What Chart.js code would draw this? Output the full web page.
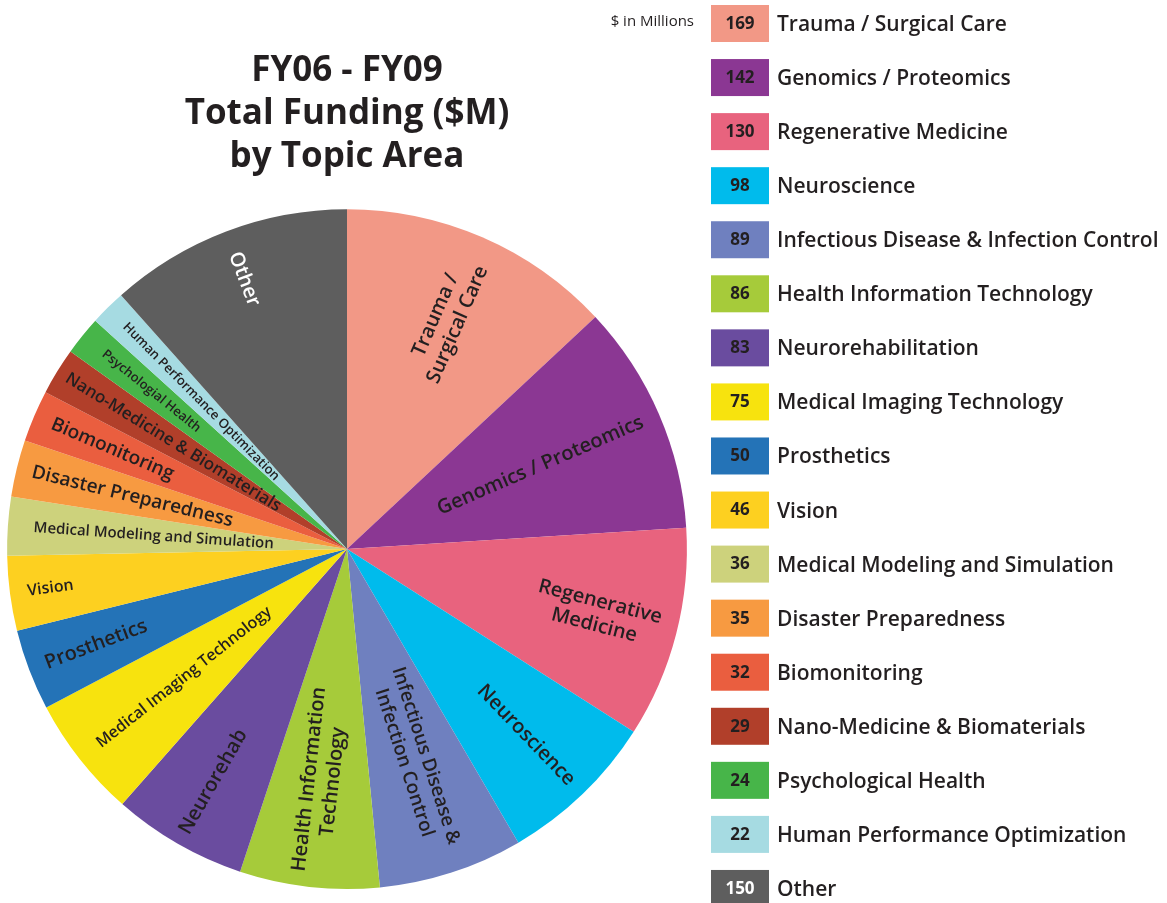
<!DOCTYPE html>
<html lang="en">
<head>
<meta charset="UTF-8">
<title>FY06 - FY09 Total Funding by Topic Area</title>
<script src="https://cdn.jsdelivr.net/npm/chart.js"></script>
<style>
    body { margin: 0; background: #fff; }
    #wrap { width: 1167px; height: 903px; position: relative; }
</style>
</head>
<body>
<div id="wrap"><canvas id="fundingChart"></canvas></div>
<script>
    // topic names as in the legend
    const topics = [
        'Trauma / Surgical Care', 'Genomics / Proteomics', 'Regenerative Medicine', 'Neuroscience',
        'Infectious Disease & Infection Control', 'Health Information Technology', 'Neurorehabilitation',
        'Medical Imaging Technology', 'Prosthetics', 'Vision', 'Medical Modeling and Simulation',
        'Disaster Preparedness', 'Biomonitoring', 'Nano-Medicine & Biomaterials', 'Psychological Health',
        'Human Performance Optimization', 'Other'
    ];
    // text written inside the slices (\n = new line)
    const sliceLabels = [
        'Trauma /\nSurgical Care', 'Genomics / Proteomics', 'Regenerative\nMedicine', 'Neuroscience',
        'Infectious Disease &\nInfection Control', 'Health Information\nTechnology', 'Neurorehab',
        'Medical Imaging Technology', 'Prosthetics', 'Vision', 'Medical Modeling and Simulation',
        'Disaster Preparedness', 'Biomonitoring', 'Nano-Medicine & Biomaterials', 'Psychologial Health',
        'Human Performance Optimization', 'Other'
    ];
    // $ in millions
    const funding = [169, 142, 130, 98, 89, 86, 83, 75, 50, 46, 36, 35, 32, 29, 24, 22, 150];
    const colors = [
        '#f29886', '#8b3793', '#e8637e', '#00bbec', '#6f80bf', '#a6cb3a', '#6a4c9f', '#f7e30e', '#2473b7',
        '#fdd020', '#cdd27c', '#f79a41', '#ea5e3f', '#b13f2a', '#47b549', '#a6dbe2', '#5e5e5e'
    ];
    const titleLines = ['FY06 - FY09', 'Total Funding ($M)', 'by Topic Area'];
    const unitNote = '$ in Millions';

    // where the slice text sits (fraction of radius) and how big it is
    const labelRadius = [0.735, 0.62, 0.76, 0.76, 0.65, 0.685, 0.79, 0.61, 0.79, 0.88, 0.57, 0.65, 0.75, 0.60, 0.74, 0.61, 0.85];
    const labelSize = [20, 20, 20, 20, 19, 20, 20, 16, 20, 16, 15, 19, 19, 17, 13, 13, 20];

    const FONT = '"Open Sans", "Noto Sans", sans-serif';
    const INK = '#231f20';

    // labels rotated along the radius of each slice
    const sliceText = {
        id: 'sliceText',
        afterDatasetsDraw(chart) {
            const ctx = chart.ctx;
            const arcs = chart.getDatasetMeta(0).data;
            arcs.forEach((arc, i) => {
                const p = arc.getProps(['x', 'y', 'startAngle', 'endAngle', 'outerRadius']);
                const mid = (p.startAngle + p.endAngle) / 2;
                const r = p.outerRadius * labelRadius[i];
                const rot = Math.cos(mid) >= 0 ? mid : mid + Math.PI;
                const size = labelSize[i];
                const lines = sliceLabels[i].split('\n');
                ctx.save();
                ctx.translate(p.x + Math.cos(mid) * r, p.y + Math.sin(mid) * r);
                ctx.rotate(rot);
                ctx.font = `600 ${size}px ${FONT}`;
                ctx.fillStyle = i === arcs.length - 1 ? '#ffffff' : INK;
                ctx.textAlign = 'center';
                ctx.textBaseline = 'middle';
                lines.forEach((t, k) => {
                    ctx.fillText(t, 0, (k - (lines.length - 1) / 2) * size * 1.2);
                });
                ctx.restore();
            });
        }
    };

    // value boxes + names on the right
    const sideLegend = {
        id: 'sideLegend',
        afterDraw(chart) {
            const ctx = chart.ctx;
            ctx.save();
            ctx.textBaseline = 'middle';
            ctx.fillStyle = INK;
            ctx.textAlign = 'right';
            ctx.font = `400 15px ${FONT}`;
            ctx.fillText(unitNote, 694, 22);
            topics.forEach((name, i) => {
                const top = 5 + i * 54.06;
                ctx.fillStyle = colors[i];
                ctx.fillRect(711, top, 58, 37);
                ctx.fillStyle = i === topics.length - 1 ? '#ffffff' : INK;
                ctx.textAlign = 'center';
                ctx.font = `700 17px ${FONT}`;
                ctx.fillText(String(funding[i]), 740, top + 19);
                ctx.fillStyle = INK;
                ctx.textAlign = 'left';
                ctx.font = `600 21px ${FONT}`;
                ctx.fillText(name, 777, top + 20, 388);
            });
            ctx.restore();
        }
    };

    new Chart(document.getElementById('fundingChart'), {
        type: 'pie',
        data: {
            labels: topics,
            datasets: [{
                data: funding,
                backgroundColor: colors,
                borderWidth: 0,
                hoverOffset: 0
            }]
        },
        options: {
            responsive: true,
            maintainAspectRatio: false,
            animation: false,
            layout: { padding: { left: 6, right: 479, top: 0, bottom: 14 } },
            plugins: {
                legend: { display: false },
                tooltip: { enabled: false },
                title: {
                    display: true,
                    text: titleLines,
                    color: INK,
                    font: { family: FONT, size: 35, weight: '700', lineHeight: 1.24 },
                    padding: { top: 49, bottom: 30 }
                }
            }
        },
        plugins: [sliceText, sideLegend]
    });
</script>
</body>
</html>
